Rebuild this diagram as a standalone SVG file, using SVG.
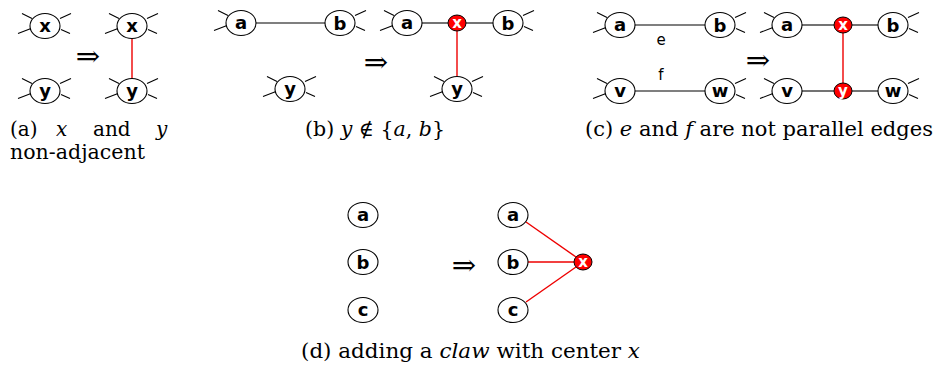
<svg xmlns="http://www.w3.org/2000/svg" width="935" height="366" viewBox="0 0 935 366">
<defs>
<style>
.n{fill:#fff;stroke:#000;stroke-width:1.1}
.r{fill:#f00;stroke:#000;stroke-width:1}
.s{stroke:#000;stroke-width:1.1;fill:none}
.e{stroke:#000;stroke-width:1.1;fill:none}
.re{stroke:#e00;stroke-width:1.4;fill:none}
.lab{font-family:'DejaVu Sans',sans-serif;font-weight:700;font-size:18px;text-anchor:middle}
.cap{font-family:'DejaVu Serif',serif;font-size:20px}
.arr{font-family:'DejaVu Serif',serif;font-size:29px;text-anchor:middle}
</style>
<path id="sl" d="M-23,-12.5 L-13,-7.5 M-27,7.5 L-14,2.5" class="s"/>
<path id="sr" d="M15,-7.5 L26,-12.5 M16,3.5 L25,7.5" class="s"/>
</defs>

<g id="connectors">
<line class="re" x1="132" y1="39" x2="132" y2="78"/>
<line class="e" x1="256" y1="23" x2="325" y2="23"/>
<line class="e" x1="422" y1="23" x2="448" y2="23"/>
<line class="e" x1="466" y1="23" x2="493" y2="23"/>
<line class="re" x1="457" y1="31" x2="457" y2="76"/>
<line class="e" x1="635" y1="25" x2="705" y2="25"/>
<line class="e" x1="635" y1="91" x2="705" y2="91"/>
<line class="e" x1="802" y1="25" x2="834" y2="25"/>
<line class="e" x1="852" y1="25" x2="878" y2="25"/>
<line class="e" x1="802" y1="91" x2="834" y2="91"/>
<line class="e" x1="852" y1="91" x2="878" y2="91"/>
<line class="re" x1="843" y1="33" x2="843" y2="83"/>
<line class="re" x1="526" y1="222" x2="576" y2="257"/>
<line class="re" x1="528" y1="262" x2="574" y2="262"/>
<line class="re" x1="526" y1="302" x2="576" y2="267"/>
</g>

<g class="lab">
<g id="a-left-x"><use href="#sl" x="45" y="26"/><use href="#sr" x="45" y="26"/><ellipse class="n" cx="45" cy="26" rx="15" ry="12.5"/><text x="45" y="31.5">x</text></g>
<g id="a-left-y"><use href="#sl" x="45" y="91"/><use href="#sr" x="45" y="91"/><ellipse class="n" cx="45" cy="91" rx="15" ry="12.5"/><text x="45" y="96.5">y</text></g>
<g id="a-right-x"><use href="#sl" x="132" y="26"/><use href="#sr" x="132" y="26"/><ellipse class="n" cx="132" cy="26" rx="15" ry="12.5"/><text x="132" y="31.5">x</text></g>
<g id="a-right-y"><use href="#sl" x="132" y="91"/><use href="#sr" x="132" y="91"/><ellipse class="n" cx="132" cy="91" rx="15" ry="12.5"/><text x="132" y="96.5">y</text></g>

<g id="b-left-a"><use href="#sl" x="241" y="23"/><ellipse class="n" cx="241" cy="23" rx="15" ry="12.5"/><text x="241" y="28.5">a</text></g>
<g id="b-left-b"><use href="#sr" x="340" y="23"/><ellipse class="n" cx="340" cy="23" rx="15" ry="12.5"/><text x="340" y="30">b</text></g>
<g id="b-left-y"><use href="#sl" x="290" y="89"/><use href="#sr" x="290" y="89"/><ellipse class="n" cx="290" cy="89" rx="15" ry="12.5"/><text x="290" y="94.5">y</text></g>
<g id="b-right-a"><use href="#sl" x="407" y="23"/><ellipse class="n" cx="407" cy="23" rx="15" ry="12.5"/><text x="407" y="28.5">a</text></g>
<g id="b-right-x"><ellipse class="r" cx="457" cy="23" rx="9" ry="8"/><text x="457" y="28" fill="#fff" font-size="15">x</text></g>
<g id="b-right-b"><use href="#sr" x="508" y="23"/><ellipse class="n" cx="508" cy="23" rx="15" ry="12.5"/><text x="508" y="30">b</text></g>
<g id="b-right-y"><use href="#sl" x="457" y="89"/><use href="#sr" x="457" y="89"/><ellipse class="n" cx="457" cy="89" rx="15" ry="12.5"/><text x="457" y="94.5">y</text></g>

<g id="c-left-a"><use href="#sl" x="620" y="25"/><ellipse class="n" cx="620" cy="25" rx="15" ry="12.5"/><text x="620" y="30.5">a</text></g>
<g id="c-left-b"><use href="#sr" x="720" y="25"/><ellipse class="n" cx="720" cy="25" rx="15" ry="12.5"/><text x="720" y="32">b</text></g>
<g id="c-left-v"><use href="#sl" x="620" y="91"/><ellipse class="n" cx="620" cy="91" rx="15" ry="12.5"/><text x="620" y="96.5">v</text></g>
<g id="c-left-w"><use href="#sr" x="720" y="91"/><ellipse class="n" cx="720" cy="91" rx="15" ry="12.5"/><text x="720" y="96.5">w</text></g>
<g id="c-right-a"><use href="#sl" x="787" y="25"/><ellipse class="n" cx="787" cy="25" rx="15" ry="12.5"/><text x="787" y="30.5">a</text></g>
<g id="c-right-x"><ellipse class="r" cx="843" cy="25" rx="9" ry="8"/><text x="843" y="30" fill="#fff" font-size="15">x</text></g>
<g id="c-right-b"><use href="#sr" x="893" y="25"/><ellipse class="n" cx="893" cy="25" rx="15" ry="12.5"/><text x="893" y="32">b</text></g>
<g id="c-right-v"><use href="#sl" x="787" y="91"/><ellipse class="n" cx="787" cy="91" rx="15" ry="12.5"/><text x="787" y="96.5">v</text></g>
<g id="c-right-y"><ellipse class="r" cx="843" cy="91" rx="9" ry="8"/><text x="843" y="95.5" fill="#fff" font-size="15">y</text></g>
<g id="c-right-w"><use href="#sr" x="893" y="91"/><ellipse class="n" cx="893" cy="91" rx="15" ry="12.5"/><text x="893" y="96.5">w</text></g>

<g id="d-left-a"><ellipse class="n" cx="363" cy="215" rx="15" ry="12.5"/><text x="363" y="220.5">a</text></g>
<g id="d-left-b"><ellipse class="n" cx="363" cy="262" rx="15" ry="12.5"/><text x="363" y="269">b</text></g>
<g id="d-left-c"><ellipse class="n" cx="363" cy="310" rx="15" ry="12.5"/><text x="363" y="315.5">c</text></g>
<g id="d-right-a"><ellipse class="n" cx="513" cy="215" rx="15" ry="12.5"/><text x="513" y="220.5">a</text></g>
<g id="d-right-b"><ellipse class="n" cx="513" cy="262" rx="15" ry="12.5"/><text x="513" y="269">b</text></g>
<g id="d-right-c"><ellipse class="n" cx="513" cy="310" rx="15" ry="12.5"/><text x="513" y="315.5">c</text></g>
<g id="d-right-x"><ellipse class="r" cx="583" cy="262" rx="9" ry="8"/><text x="583" y="267" fill="#fff" font-size="15">x</text></g>
</g>

<g id="edge-labels" font-family="'DejaVu Sans', sans-serif" font-size="15" text-anchor="middle">
<text x="661" y="45">e</text>
<text x="661" y="80">f</text>
</g>

<g id="arrows" class="arr">
<text x="88" y="66">⇒</text>
<text x="376" y="72">⇒</text>
<text x="758" y="70">⇒</text>
<text x="464" y="275">⇒</text>
</g>

<g id="captions" class="cap">
<text x="10" y="136">(a)</text>
<text x="56" y="136" font-style="italic">x</text>
<text x="93" y="136">and</text>
<text x="156" y="136" font-style="italic">y</text>
<text x="10" y="159" textLength="135" lengthAdjust="spacingAndGlyphs">non-adjacent</text>
<text x="305" y="136" textLength="140" lengthAdjust="spacingAndGlyphs">(b) <tspan font-style="italic">y</tspan> ∉ {<tspan font-style="italic">a</tspan>, <tspan font-style="italic">b</tspan>}</text>
<text x="585" y="136" textLength="348" lengthAdjust="spacingAndGlyphs">(c) <tspan font-style="italic">e</tspan> and <tspan font-style="italic">f</tspan> are not parallel edges</text>
<text x="301" y="358" textLength="339" lengthAdjust="spacingAndGlyphs">(d) adding a <tspan font-style="italic">claw</tspan> with center <tspan font-style="italic">x</tspan></text>
</g>
</svg>
